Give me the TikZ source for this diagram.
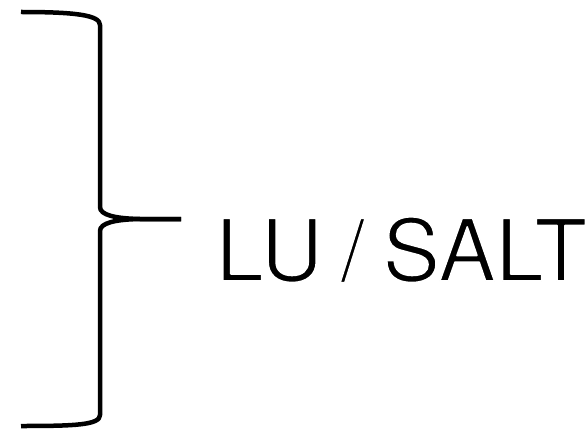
\documentclass[tikz,border=0pt]{standalone}
\usepackage{fontspec}
\setmainfont{TeX Gyre Heros}
\newcommand{\thinner}[1]{\special{pdf:literal q 2 Tr 1.6 w 1 G 1 j}#1\special{pdf:literal Q}}
\tikzset{
  bracestroke/.style={line width=4.5pt, line cap=butt, line join=round, black},
  label/.style={inner sep=0pt, anchor=base west, font=\fontsize{86}{86}\selectfont}
}
\begin{document}
\begin{tikzpicture}[x=1pt,y=1pt]
\useasboundingbox (0,0) rectangle (588,429);
% brace, upper half
\draw[bracestroke] (21,417) .. controls (75,417) and (100,414) .. (100,404)
  -- (100,222) .. controls (100,214) and (115,210.5) .. (140,210) -- (181,210);
% brace, lower half
\draw[bracestroke] (181,210) -- (140,210) .. controls (115,209.5) and (100,206) .. (100,198)
  -- (100,14) .. controls (100,4) and (75,3) .. (21,3);
\node[label] (lbl) at (215.7,148) {\thinner{LU\hspace{18pt}/\hspace{18pt}SALT}};
\end{tikzpicture}
\end{document}
